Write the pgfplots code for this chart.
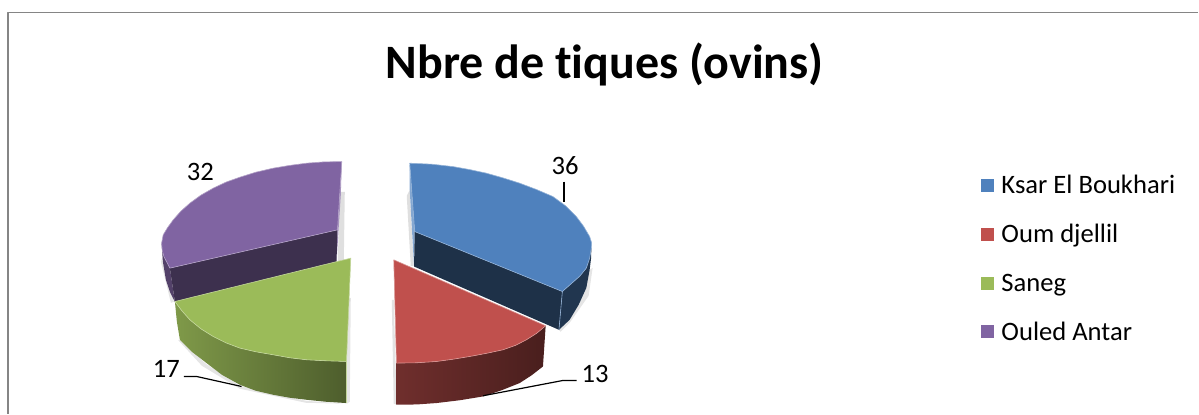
\documentclass[border=0pt]{standalone}
\usepackage{fontspec}
\setmainfont[Ligatures=NoCommon]{Carlito}
\usepackage{pgfplots}
\pgfplotsset{compat=1.18}
\definecolor{cblue}{HTML}{4F81BD}
\definecolor{cred}{HTML}{C0504D}
\definecolor{cgreen}{HTML}{9BBB59}
\definecolor{cpurple}{HTML}{8064A2}
\begin{document}
\begin{tikzpicture}
\begin{axis}[
  scale only axis, width=1199pt, height=414pt,
  xmin=0, xmax=1199, ymin=0, ymax=414, y dir=reverse,
  hide axis, clip=false,
  legend style={at={(axis cs:981,173)}, anchor=north west, draw=none, fill=none,
    font=\fontsize{26.6}{26.6}\selectfont, row sep=25.4pt, inner sep=0pt,
    cells={anchor=west}},
  legend image code/.code={\path[#1, draw=none] (0pt,-6.5pt) rectangle (13pt,6.5pt);\path (0pt,0pt) (18.5pt,0pt);},
  legend cell align=left,
  every axis plot/.append style={line join=round},
]
\path (axis cs:0,0) rectangle (axis cs:1199,414);
\addlegendimage{fill=cblue}\addlegendentry{Ksar El Boukhari}
\addlegendimage{fill=cred}\addlegendentry{Oum djellil}
\addlegendimage{fill=cgreen}\addlegendentry{Saneg}
\addlegendimage{fill=cpurple}\addlegendentry{Ouled Antar}

% frame
\addplot[draw=black!48, line width=1.5pt] coordinates {(8,414) (8,12.5) (1199,12.5)};

% soft shadows
\addplot[fill=black!25, draw=none, opacity=.5] coordinates {(340,192) (345,192) (344,262) (338,262)};
\addplot[fill=black!25, draw=none, opacity=.5] coordinates {(407,196) (410,190) (414,266) (411,266)};
\addplot[fill=black!20, draw=none, opacity=.5] coordinates {(347,300) (351,298) (350,402) (347,404)};
\addplot[fill=black!20, draw=none, opacity=.5] coordinates {(163,255) (161,262) (171,303) (174,302)};
\addplot[fill=black!20, draw=none, opacity=.5] coordinates {(178,340) (180,340) (206,364) (240,386) (306,401) (346,404) (306,403) (240,389) (202,366)};
\addplot[fill=black!22, draw=none, opacity=.5] coordinates {(394,300) (392,300) (394,404) (397,405)};
\addplot[fill=black!20, draw=none, opacity=.5] coordinates {(590,270) (593,268) (589,296) (570,323) (561,332) (559,330)};

% Ouled Antar = 32
\addplot[draw=none, fill=cpurple!65!black] coordinates {(161.7,243.3) (164,256.7) (170,268.3) (175,302) (170,292) (166,280) (163,262)};
\addplot[fill=cpurple!70!white, draw=none] coordinates {(342,163) (337.7,230) (336.7,262.7) (341,195)};
\addplot[fill=cpurple!48!black, draw=none] coordinates {(170,268.3) (337.7,230) (336.7,262.7) (175,302)};
\addplot[fill=cpurple, draw=cpurple!60!white, line width=.6pt] coordinates {(342,161.7) (324,162) (306.7,163.3) (290,165.5) (273.3,168.3) (256,172.3) (240,177.3) (226,182.3) (213.3,188.3) (201,195.3) (190,203.3) (181,211.3) (173.3,220) (167.5,228) (163.3,235) (161.7,243.3) (162.3,250) (164,256.7) (170,268.3) (337.7,230)} -- cycle;

% Ksar El Boukhari = 36
\addplot[fill=cblue!70!white, draw=none] coordinates {(410,165) (415,231.7) (414.3,266.7) (410,190)};
\addplot[fill=cblue!38!black, draw=none] coordinates {(415,231.7) (562.7,291.7) (559.3,330) (414.3,266.7)};
\addplot[fill=cblue!42!black, draw=none] coordinates {(562.7,291.7) (576,280) (586.7,268.3) (591.7,248.3) (591.5,258) (590,270) (586.7,288) (579,305) (570,320) (559.3,330)};
\addplot[draw=cblue!60!white, line width=.6pt] coordinates {(562.7,291.7) (559.3,330)};
\addplot[fill=cblue, draw=cblue!60!white, line width=.6pt] coordinates {(410,163.3) (432,164.3) (453.3,166.7) (470,169.7) (486.7,173.3) (503.3,178) (520,183.3) (537,189.7) (553.3,196.7) (566,206) (576.7,216.7) (584,226.5) (590,236.7) (592,243) (591.7,248.3) (590,258.5) (586.7,268.3) (580,276.5) (572,283.5) (562.7,291.7) (415,231.7)} -- cycle;

% Saneg = 17
\addplot[draw=none, left color=cgreen!82!black, right color=cgreen!50!black] coordinates {(175,301.7) (182,311) (190,320) (201,329) (213.3,336.7) (226,343) (240,348.3) (256,352) (273.3,355) (290,358) (306.7,360) (326,361) (346.7,361.7) (346.7,403.3) (326,402) (306.7,400) (290,398) (273.3,395) (256,391) (240,385) (222,375) (206.7,363.3) (192,352) (180,340) (177,322)} -- cycle;
\addplot[fill=cgreen, draw=cgreen!60!white, line width=.6pt] coordinates {(351,258.3) (346.7,361.7) (326,361) (306.7,360) (290,358) (273.3,355) (256,352) (240,348.3) (226,343) (213.3,336.7) (201,329) (190,320) (182,311) (175,301.7)} -- cycle;
\addplot[draw=cgreen!60!white, line width=.8pt] coordinates {(346.7,361.7) (346.7,403.3)};

% Oum djellil = 13
\addplot[draw=none, left color=cred!58!black, right color=cred!38!black] coordinates {(396.7,363.3) (417,363) (436.7,361.7) (453,359.5) (470,356.7) (487,353.5) (503.3,350) (516,345.5) (526.7,340) (537,333.5) (546,326) (543.3,366.7) (532,375.5) (520,383.3) (502,390.5) (483.3,396.7) (460,400.5) (436.7,403.3) (417,404.7) (396.7,405)} -- cycle;
\addplot[fill=cred, draw=cred!60!white, line width=.6pt] coordinates {(394,260) (546,326) (537,333.5) (526.7,340) (516,345.5) (503.3,350) (487,353.5) (470,356.7) (453,359.5) (436.7,361.7) (417,363) (396.7,363.3)} -- cycle;

% leader lines
\addplot[black, line width=1.2pt] coordinates {(564.3,181.7) (564.3,201.7)};
\addplot[black, line width=1.2pt] coordinates {(483.3,396) (563.3,380.7) (577,380.7)};
\addplot[black, line width=1.2pt] coordinates {(184,376.7) (196.7,376.7) (241.7,386.7)};

% data labels
\node[font=\fontsize{26.6}{26.6}\selectfont] at (axis cs:565.5,166) {36};
\node[font=\fontsize{26.6}{26.6}\selectfont] at (axis cs:595.5,374) {13};
\node[font=\fontsize{26.6}{26.6}\selectfont] at (axis cs:166.5,369.5) {17};
\node[font=\fontsize{26.6}{26.6}\selectfont] at (axis cs:200.5,172) {32};

% title
\node[font=\bfseries\fontsize{48}{48}\selectfont] at (axis cs:605,65) {Nbre de tiques (ovins)};
\end{axis}
\end{tikzpicture}
\end{document}
